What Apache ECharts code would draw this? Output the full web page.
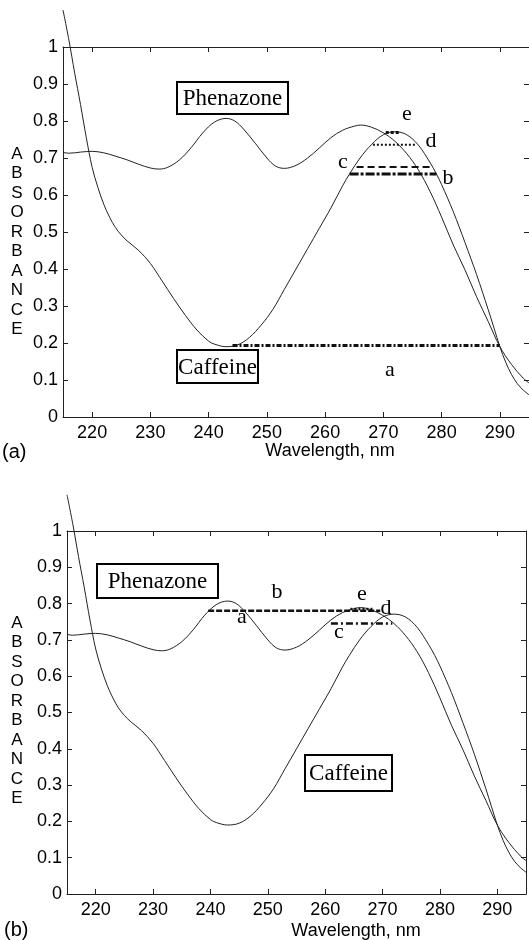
<!DOCTYPE html>
<html>
<head>
<meta charset="utf-8">
<script src="https://cdn.jsdelivr.net/npm/echarts@6/dist/echarts.min.js"></script>
<style>
  html, body { margin: 0; padding: 0; background: #fff; }
  #chart { width: 529px; height: 940px; }
</style>
</head>
<body>
<div id="chart"></div>
<script>
// Absorption spectra (absorbance vs wavelength, nm)
const caffeineWl = [215, 216, 217, 218, 219, 220, 221, 222, 223, 224, 225, 226, 228, 230, 232, 234, 236, 238, 240, 241, 243, 245, 247, 249, 251, 253, 255, 257, 259, 261, 263, 264.2, 266, 268, 270, 272, 274, 276, 278, 279.1, 280, 282, 284, 286, 288, 289, 290, 291, 292, 293, 294, 295];
const caffeineAbs = [1.10, 1.02, 0.93, 0.845, 0.755, 0.675, 0.62, 0.575, 0.54, 0.512, 0.492, 0.476, 0.45, 0.415, 0.368, 0.32, 0.275, 0.235, 0.205, 0.197, 0.19, 0.195, 0.215, 0.248, 0.29, 0.345, 0.40, 0.455, 0.51, 0.565, 0.625, 0.657, 0.70, 0.737, 0.763, 0.771, 0.763, 0.735, 0.688, 0.657, 0.628, 0.555, 0.472, 0.385, 0.29, 0.24, 0.19, 0.148, 0.115, 0.09, 0.073, 0.06];

const phenazoneWl = [215, 216, 217, 218, 220, 222, 224, 226, 228, 230, 231.5, 233, 235, 237, 239, 241, 243, 244.5, 246, 248, 250, 251.5, 253, 255, 257, 259, 261, 263, 265, 266.1, 268, 270, 272, 274, 276, 278, 280, 282, 284, 286, 288, 290, 292, 294, 295];
const phenazoneAbs = [0.715, 0.713, 0.714, 0.716, 0.718, 0.714, 0.705, 0.695, 0.683, 0.673, 0.670, 0.675, 0.695, 0.728, 0.768, 0.797, 0.807, 0.800, 0.778, 0.740, 0.700, 0.678, 0.672, 0.680, 0.700, 0.727, 0.755, 0.775, 0.786, 0.789, 0.783, 0.768, 0.745, 0.712, 0.668, 0.610, 0.540, 0.465, 0.398, 0.325, 0.258, 0.19, 0.142, 0.105, 0.092];

// Equal-absorbance levels, panel (a)
const levelNamesA = ['a', 'b', 'c', 'd', 'e'];
const levelAbsA = [0.193, 0.657, 0.676, 0.736, 0.769];
const levelFromA = [244.1, 264.2, 265.4, 268.2, 270.4];
const levelToA = [290.0, 279.1, 278.2, 275.7, 272.8];

// Equal-absorbance levels, panel (b)
const levelNamesB = ['b', 'c', 'e'];
const levelAbsB = [0.780, 0.745, 0.785];
const levelFromB = [239.6, 261.0, 264.4];
const levelToB = [269.6, 271.7, 268.3];

const xTicks = [220, 230, 240, 250, 260, 270, 280, 290];

const pairs = (xs, ys) => xs.map((x, i) => [x, ys[i]]);

const sansFont = "'Liberation Sans', Arial, sans-serif";
const serifFont = "'Liberation Serif', 'Times New Roman', serif";

const levelStylesA = {
  a: { width: 3, type: [5, 2, 2, 2] },
  b: { width: 3, type: [9, 2, 3, 2] },
  c: { width: 2, type: [7, 4] },
  d: { width: 2, type: [2, 2] },
  e: { width: 3, type: [3, 2] }
};
const levelStylesB = {
  b: { width: 2.5, type: [6, 2] },
  c: { width: 2.5, type: [7, 3, 2, 3] },
  e: { width: 2.5, type: [2, 2] }
};

const grids = [
  { left: 63, top: 47, width: 467, height: 370 },
  { left: 67, top: 531, width: 459, height: 363 }
];

const xAxes = [];
const yAxes = [];
grids.forEach((g, gi) => {
  xAxes.push({
    type: 'value', gridIndex: gi, min: 215, max: 295, position: 'bottom',
    axisLine: { show: true, onZero: false, lineStyle: { color: '#222', width: 1 } },
    axisTick: { show: true, inside: true, length: 5, customValues: xTicks, lineStyle: { color: '#222' } },
    axisLabel: { show: true, customValues: xTicks, margin: 7, color: '#000', fontSize: 18, fontFamily: sansFont },
    splitLine: { show: false }
  });
  xAxes.push({
    type: 'value', gridIndex: gi, min: 215, max: 295, position: 'top',
    axisLine: { show: true, onZero: false, lineStyle: { color: '#222', width: 1 } },
    axisTick: { show: true, inside: true, length: 5, customValues: xTicks, lineStyle: { color: '#222' } },
    axisLabel: { show: false },
    splitLine: { show: false }
  });
  yAxes.push({
    type: 'value', gridIndex: gi, min: 0, max: 1, interval: 0.1, position: 'left',
    axisLine: { show: true, onZero: false, lineStyle: { color: '#222', width: 1 } },
    axisTick: { show: true, inside: true, length: 5, lineStyle: { color: '#222' } },
    axisLabel: { show: true, margin: 5, color: '#000', fontSize: 18, fontFamily: sansFont,
      formatter: v => String(Math.round(v * 10) / 10) },
    splitLine: { show: false }
  });
  yAxes.push({
    type: 'value', gridIndex: gi, min: 0, max: 1, interval: 0.1, position: 'right',
    axisLine: { show: true, onZero: false, lineStyle: { color: '#222', width: 1 } },
    axisTick: { show: true, inside: true, length: 5, lineStyle: { color: '#222' } },
    axisLabel: { show: false },
    splitLine: { show: false }
  });
});

const series = [];
[0, 1].forEach(gi => {
  const xi = gi * 2, yi = gi * 2;
  series.push({
    type: 'line', xAxisIndex: xi, yAxisIndex: yi, clip: false, smooth: 0.35,
    symbol: 'none', data: pairs(caffeineWl, caffeineAbs),
    lineStyle: { color: '#222', width: 1 }, z: 3
  });
  series.push({
    type: 'line', xAxisIndex: xi, yAxisIndex: yi, clip: false, smooth: 0.35,
    symbol: 'none', data: pairs(phenazoneWl, phenazoneAbs),
    lineStyle: { color: '#222', width: 1 }, z: 3
  });
});

levelNamesA.forEach((n, i) => {
  series.push({
    type: 'line', xAxisIndex: 0, yAxisIndex: 0, symbol: 'none',
    data: [[levelFromA[i], levelAbsA[i]], [levelToA[i], levelAbsA[i]]],
    lineStyle: Object.assign({ color: '#111' }, levelStylesA[n]), z: 4
  });
});
levelNamesB.forEach((n, i) => {
  series.push({
    type: 'line', xAxisIndex: 2, yAxisIndex: 2, symbol: 'none',
    data: [[levelFromB[i], levelAbsB[i]], [levelToB[i], levelAbsB[i]]],
    lineStyle: Object.assign({ color: '#111' }, levelStylesB[n]), z: 4
  });
});

function boxLabel(text, x, y, w, h) {
  return {
    type: 'group', z: 10,
    children: [
      { type: 'rect', shape: { x: x, y: y, width: w, height: h },
        style: { fill: '#fff', stroke: '#000', lineWidth: 2 } },
      { type: 'text', x: x + w / 2, y: y + h / 2 + 1,
        style: { text: text, font: '23px ' + serifFont, fill: '#000', align: 'center', verticalAlign: 'middle' } }
    ]
  };
}
function letter(t, x, y) {
  return { type: 'text', x: x, y: y, z: 10,
    style: { text: t, font: '22px ' + serifFont, fill: '#000', align: 'center', verticalAlign: 'middle' } };
}
function sansText(t, x, y, size, align) {
  return { type: 'text', x: x, y: y, z: 10,
    style: { text: t, font: size + 'px ' + sansFont, fill: '#000', align: align || 'center', verticalAlign: 'middle' } };
}
const yTitle = 'ABSORBANCE'.split('').join('\n');
function yAxisTitle(cy) {
  return { type: 'text', x: 17, y: cy, z: 10,
    style: { text: yTitle, font: '17px ' + sansFont, lineHeight: 19.5, fill: '#000', align: 'center', verticalAlign: 'middle' } };
}

const graphic = [
  boxLabel('Phenazone', 177, 82, 111, 32),
  boxLabel('Caffeine', 177, 350, 81, 33),
  boxLabel('Phenazone', 97, 564, 121, 34),
  boxLabel('Caffeine', 305, 755, 87, 36),
  letter('e', 407, 114), letter('d', 431, 141), letter('c', 343, 162), letter('b', 448, 178), letter('a', 390, 370),
  letter('b', 277, 592), letter('a', 242, 617), letter('e', 362, 594), letter('d', 386, 608), letter('c', 339, 632),
  yAxisTitle(242), yAxisTitle(711),
  sansText('Wavelength, nm', 330, 451, 18),
  sansText('Wavelength, nm', 356, 931, 18),
  sansText('(a)', 2, 452, 20, 'left'),
  sansText('(b)', 4, 930, 20, 'left')
];

const chart = echarts.init(document.getElementById('chart'), null, { renderer: 'canvas' });
chart.setOption({
  backgroundColor: '#fff',
  animation: false,
  grid: grids,
  xAxis: xAxes,
  yAxis: yAxes,
  series: series,
  graphic: graphic
});
</script>
</body>
</html>
